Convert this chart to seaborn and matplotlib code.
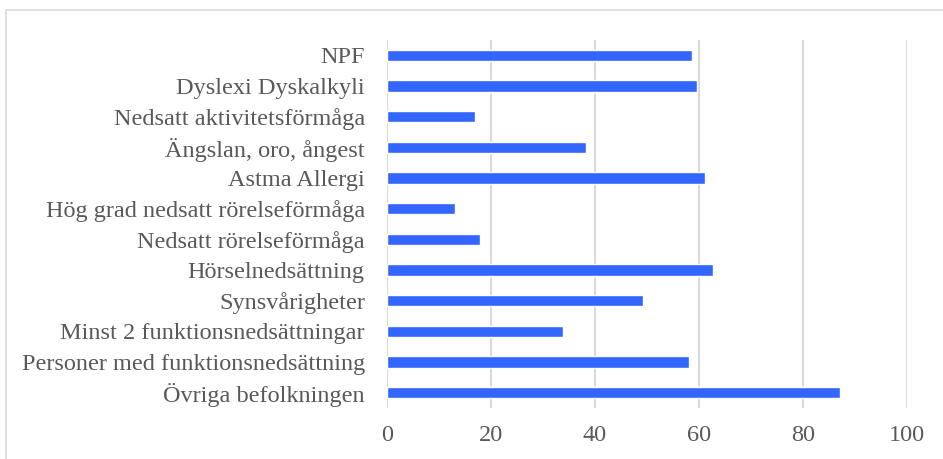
import matplotlib
matplotlib.use("Agg")
import matplotlib.pyplot as plt
import seaborn as sns
import pandas as pd
from matplotlib.patches import Rectangle

# Data
categories = [
    "NPF",
    "Dyslexi Dyskalkyli",
    "Nedsatt aktivitetsförmåga",
    "Ängslan, oro, ångest",
    "Astma Allergi",
    "Hög grad nedsatt rörelseförmåga",
    "Nedsatt rörelseförmåga",
    "Hörselnedsättning",
    "Synsvårigheter",
    "Minst 2 funktionsnedsättningar",
    "Personer med funktionsnedsättning",
    "Övriga befolkningen",
]
values = [58.7, 59.7, 17.0, 38.2, 61.2, 13.1, 17.9, 62.6, 49.2, 33.8, 58.1, 87.1]
x_ticks = [0, 20, 40, 60, 80, 100]

df = pd.DataFrame({"Kategori": categories, "Andel": values})

sns.set_theme(style="white")
plt.rcParams["font.family"] = ["Liberation Serif", "DejaVu Serif"]

fig = plt.figure(figsize=(9.43, 4.59), dpi=100)
ax = fig.add_axes([387 / 943, 1 - 408 / 459, 520 / 943, 368 / 459])

sns.barplot(data=df, x="Andel", y="Kategori", orient="h", color="#3366FF",
            saturation=1, width=0.36, ax=ax, zorder=3)

ax.set_xlim(0, 100)
ax.set_xticks(x_ticks)
ax.set_xlabel("")
ax.set_ylabel("")
ax.grid(axis="x", color="#D9D9D9", linewidth=1.5, zorder=0)
for s in ax.spines.values():
    s.set_visible(False)
ax.tick_params(axis="both", length=0, labelsize=17.5, colors="#595959")
ax.tick_params(axis="y", pad=16)
ax.tick_params(axis="x", pad=12)

# chart border
fig.patches.append(Rectangle((6 / 943, -0.05), 1.1, 1 - 10 / 459 + 0.05,
                             transform=fig.transFigure, fill=False,
                             edgecolor="#D9D9D9", linewidth=1.2))

fig.savefig("out.png", dpi=100)
